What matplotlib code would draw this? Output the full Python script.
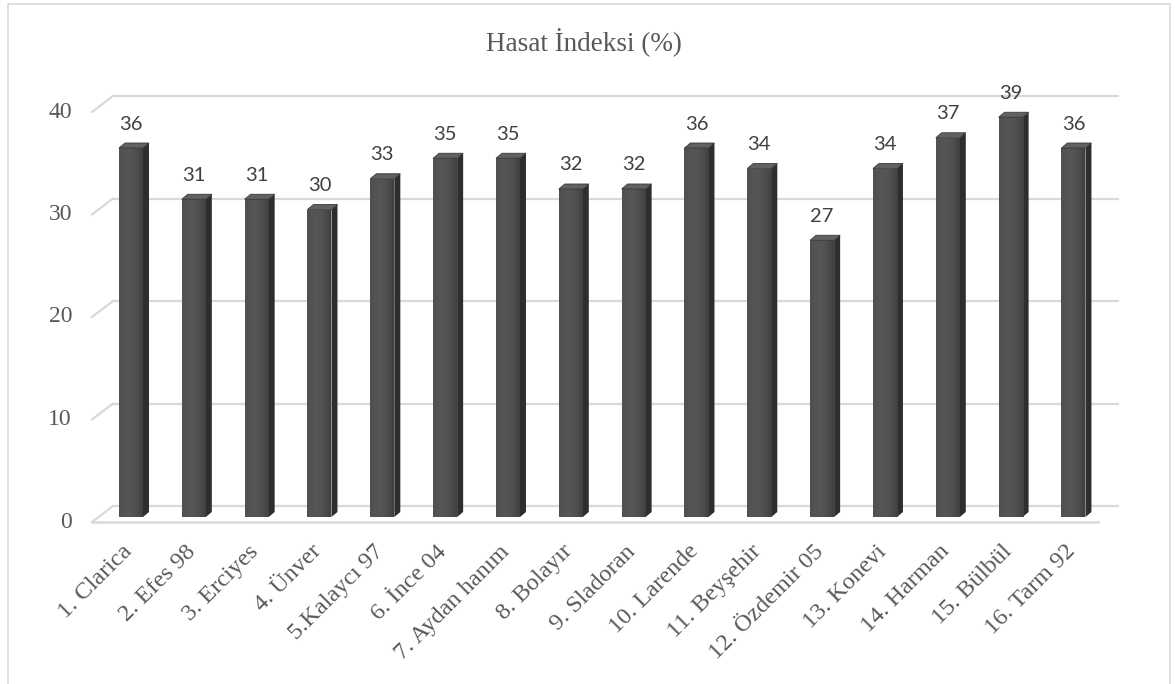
import numpy as np
import matplotlib
matplotlib.use("Agg")
import matplotlib.pyplot as plt
from matplotlib.patches import Polygon, Rectangle
from matplotlib.transforms import offset_copy

# Harvest index by cultivar
cultivars = ["1. Clarica", "2. Efes 98", "3. Erciyes", "4. Ünver", "5.Kalaycı 97",
             "6. İnce 04", "7. Aydan hanım", "8. Bolayır", "9. Sladoran",
             "10. Larende", "11. Beyşehir", "12. Özdemir 05", "13. Konevi",
             "14. Harman", "15. Bülbül", "16. Tarm 92"]
harvest_index = [36, 31, 31, 30, 33, 35, 35, 32, 32, 36, 34, 27, 34, 37, 39, 36]
y_ticks = [0, 10, 20, 30, 40]
title = "Hasat İndeksi (%)"

W, H, DPI = 1176, 684, 100
fig = plt.figure(figsize=(W / DPI, H / DPI), dpi=DPI)
fig.patch.set_facecolor("white")

# plot area of the front plane, in pixels
left_px, right_px, top_px, bottom_px = 92, 1098, 112, 522
ax = fig.add_axes([left_px / W, (H - bottom_px) / H,
                   (right_px - left_px) / W, (bottom_px - top_px) / H])
step_px = 62.83
first_px = 131
ax.set_xlim((left_px - first_px) / step_px, (right_px - first_px) / step_px)
ax.set_ylim(0, 40)
ax.axis("off")
fig.canvas.draw()

def px_to_data(dx, dy):
    """Convert a pixel displacement into data units."""
    inv = ax.transData.inverted()
    x0, y0 = inv.transform((0, 0))
    x1, y1 = inv.transform((dx, dy))
    return x1 - x0, y1 - y0

x0, x1 = ax.get_xlim()
grid_col = "#d9d9d9"
text_col = "#595959"
serif = "Liberation Serif"

# back wall depth of the 3D frame
wdx, wdy = px_to_data(21, 16)
for v in y_ticks:
    ax.plot([x0 + wdx, x1 + wdx], [v + wdy, v + wdy], color=grid_col, lw=1.6,
            clip_on=False, zorder=1, solid_capstyle="butt")
    ax.plot([x0, x0 + wdx], [v, v + wdy], color=grid_col, lw=1.6,
            clip_on=False, zorder=1)
# floor front edge
ax.plot([x0, x1], [0, 0], color=grid_col, lw=1.8, clip_on=False, zorder=1)

# y tick labels on the front plane
for v in y_ticks:
    ax.text(x0, v, str(v), transform=offset_copy(ax.transData, fig=fig, x=-20, y=0, units="dots"),
            ha="right", va="center", fontsize=17, color=text_col, family=serif)

# 3D-looking bars
half_w = 12 / step_px
bdx, bdy = px_to_data(6, 5)
lift = px_to_data(0, 5)[1]
grad = np.linspace(0, 1, 64)
shade = 0.30 + 0.06 * np.sin(np.pi * (grad * 0.9 + 0.05)) - 0.06 * grad
shade_img = np.dstack([shade, shade, shade]).repeat(2, axis=0)

for i, v in enumerate(harvest_index):
    l, r = i - half_w, i + half_w
    b, t = lift, v + lift
    front = Rectangle((l, b), r - l, t - b, facecolor="#4a4a4a", edgecolor="none",
                      zorder=3, clip_on=False)
    ax.add_patch(front)
    img = ax.imshow(shade_img, extent=(l, r, b, t), aspect="auto", zorder=3.1,
                    interpolation="bilinear")
    img.set_clip_path(front)
    side = Polygon([(r, b), (r + bdx, b + bdy), (r + bdx, t + bdy), (r, t)],
                   closed=True, facecolor="#2e2e2e", edgecolor="none", zorder=3,
                   clip_on=False)
    top = Polygon([(l, t), (r, t), (r + bdx, t + bdy), (l + bdx, t + bdy)],
                  closed=True, facecolor="#616161", edgecolor="#3a3a3a", lw=0.6,
                  zorder=3.2, clip_on=False)
    ax.add_patch(side)
    ax.add_patch(top)
    # value label
    ax.text(i, v, str(v),
            transform=offset_copy(ax.transData, fig=fig, x=0, y=29, units="dots"),
            ha="center", va="center", fontsize=14.5, color="#404040",
            family="Lato", zorder=5)
    # category label
    ax.text(i, 0, cultivars[i],
            transform=offset_copy(ax.transData, fig=fig, x=-9, y=-19, units="dots"),
            ha="right", va="top", rotation=45, rotation_mode="anchor",
            fontsize=17.5, color=text_col, family=serif)

ax.set_ylim(0, 40)
ax.set_xlim(x0, x1)

# chart title
fig.text(584 / W, 1 - 43 / H, title, ha="center", va="center", fontsize=19.5,
         color=text_col, family=serif)

# chart frame
frame = Rectangle((8 / W, -0.01), (1170 - 8) / W, 1 - 4 / H + 0.01,
                  transform=fig.transFigure, fill=False, edgecolor="#d9d9d9", lw=1.2)
fig.patches.append(frame)

fig.savefig("out.png", dpi=DPI, facecolor="white")
